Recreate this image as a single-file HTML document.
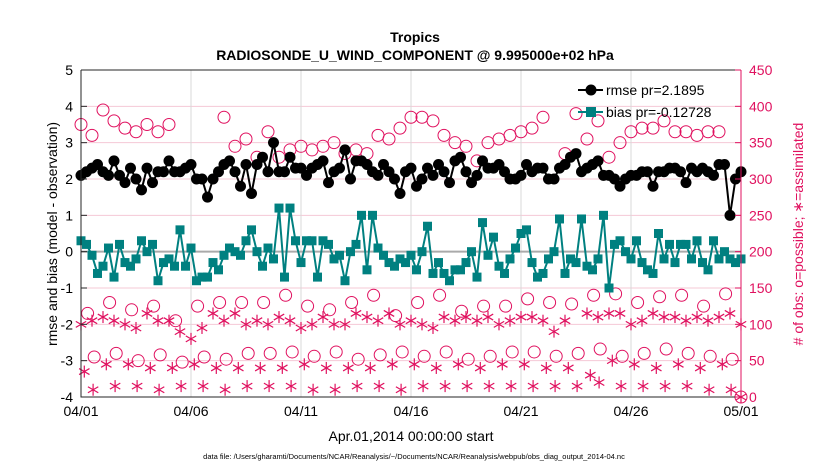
<!DOCTYPE html>
<html><head><meta charset="utf-8"><style>
body{margin:0;background:#fff;}
svg{font-family:"Liberation Sans",sans-serif;}
</style></head><body>
<svg id="chart" width="830" height="470" xmlns="http://www.w3.org/2000/svg">
<text x="415" y="42" text-anchor="middle" font-size="14" font-weight="bold">Tropics</text>
<text x="415" y="60" text-anchor="middle" font-size="14" font-weight="bold">RADIOSONDE_U_WIND_COMPONENT @ 9.995000e+02 hPa</text>
<g id="grid"></g>
<g id="marks"></g>
<g id="axes"></g>
<text transform="translate(57,234) rotate(-90)" text-anchor="middle" font-size="14">rmse and bias (model - observation)</text>
<text transform="translate(803,234) rotate(-90)" text-anchor="middle" font-size="14" fill="#e0115f">&#35; of obs: o=possible; &#8727;=assimilated</text>
<text x="411" y="441" text-anchor="middle" font-size="14">Apr.01,2014 00:00:00 start</text>
<text x="414" y="459" text-anchor="middle" font-size="7.5">data file: /Users/gharamti/Documents/NCAR/Reanalysis/~/Documents/NCAR/Reanalysis/webpub/obs_diag_output_2014-04.nc</text>
<g id="marks2"></g>
<g>
<line x1="578" y1="90" x2="603" y2="90" stroke="#000" stroke-width="2"/><circle cx="591" cy="90" r="5.5" fill="#000"/>
<text x="606" y="95" font-size="14">rmse pr=2.1895</text>
<line x1="578" y1="112" x2="603" y2="112" stroke="#008080" stroke-width="2"/><rect x="586" y="107" width="10" height="10" fill="#008080"/>
<text x="606" y="117" font-size="14">bias pr=-0.12728</text>
</g>
</svg>
<script>
const rmse=[2.1,2.2,2.3,2.4,2.2,2.1,2.5,2.1,1.9,2.3,2.0,1.7,2.3,1.9,2.2,2.2,2.5,2.2,2.2,2.3,2.4,2.0,2.0,1.5,2.0,2.2,2.4,2.5,2.2,1.8,2.4,1.6,2.4,2.6,2.2,3.0,2.2,2.2,2.6,2.3,2.3,2.1,2.3,2.4,2.5,1.9,2.2,2.3,2.8,2.0,2.5,2.5,2.4,2.2,2.1,2.4,2.2,2.0,1.6,2.2,
2.3,1.8,2.0,2.3,2.1,2.4,2.2,1.9,2.5,2.6,2.2,1.9,2.1,2.5,2.3,2.3,2.4,2.2,2.0,2.0,2.1,2.4,2.2,2.3,2.3,2.0,2.0,2.3,2.4,2.6,2.7,2.2,2.3,2.4,2.5,2.1,2.1,2.0,1.8,2.0,2.1,2.1,2.2,2.2,1.8,2.2,2.2,2.3,2.3,2.2,1.9,2.3,2.2,2.3,2.2,2.1,2.4,2.4,1.0,2.0,2.2];
const bias=[0.3,0.2,-0.1,-0.6,-0.4,0.1,-0.7,0.2,-0.3,-0.4,-0.2,0.3,0.0,0.2,-0.8,-0.3,-0.2,-0.4,0.6,-0.4,0.1,-0.8,-0.7,-0.7,-0.3,-0.5,-0.1,0.1,0.0,-0.1,0.3,0.6,0.0,-0.4,0.1,-0.2,1.2,-0.7,1.2,0.3,-0.3,0.3,0.3,-0.7,0.3,0.2,-0.2,-0.1,-0.8,0.0,0.2,1.0,-0.5,1.0,0.1,-0.1,-0.3,-0.4,-0.2,-0.3,
-0.1,-0.5,0.0,0.7,-0.6,-0.3,-0.6,-0.8,-0.5,-0.5,-0.3,0.0,-0.7,0.8,-0.1,0.4,-0.4,-0.6,-0.2,0.1,0.5,0.6,-0.3,-0.7,-0.6,-0.2,0.0,0.9,-0.6,-0.2,-0.3,0.9,-0.4,-0.5,-0.2,1.0,-1.0,0.2,0.3,0.0,-0.2,0.3,-0.3,-0.5,-0.6,0.5,-0.2,0.2,-0.3,0.2,0.2,-0.2,0.3,-0.3,-0.5,0.3,-0.2,0.0,-0.2,-0.3,-0.2];
const possHigh=[375,360,395,380,370,365,375,365,375,null,null,null,null,385,345,355,330,365,330,340,345,340,345,350,335,340,335,360,355,370,385,385,380,360,350,345,325,350,355,360,365,370,385,null,335,390,355,380,330,350,365,370,370,380,365,365,360,365,365,null,null];
const possMid=[115,130,120,125,105,125,130,130,130,140,125,120,130,140,112,130,140,118,125,125,135,130,128,140,142,130,138,140,125,142];
const assimMid=[100,105,110,105,100,95,115,105,105,90,80,95,115,105,115,100,105,100,110,105,95,100,110,100,100,115,110,105,115,100,105,100,95,110,105,110,105,110,100,105,110,110,105,90,105,null,115,110,115,115,100,105,115,110,110,105,110,105,110,115,100];
const possLo=[55,60,50,58,48,55,52,60,60,62,56,62,52,58,62,56,62,52,56,62,62,56,60,66,56,60,66,60,56,52];
const assimLo=[35,45,45,40,40,45,40,40,40,40,45,40,40,40,45,45,40,45,40,45,45,40,40,30,50,45,40,45,40,45];
const assimBot=[10,15,15,10,15,15,10,15,15,15,10,10,15,15,10,15,15,15,15,15,15,15,15,20,15,15,15,15,10,10];
const ticksL=[5,4,3,2,1,0,-1,-2,-3,-4];
const ticksR=[450,400,350,300,250,200,150,100,50,0];
const xLabels=["04/01","04/06","04/11","04/16","04/21","04/26","05/01"];
const X0=81,X1=741,Y0=70,Y1=397;
const xs=d=>X0+(X1-X0)*d/30;
const yl=v=>Y1-(v+4)/9*(Y1-Y0);
const yr=v=>Y1-v/450*(Y1-Y0);
const NS="http://www.w3.org/2000/svg";
function mk(p,t,a){const e=document.createElementNS(NS,t);for(const k in a)e.setAttribute(k,a[k]);p.appendChild(e);return e;}
const G=document.getElementById('grid'),M=document.getElementById('marks'),A=document.getElementById('axes');
const PK="#e0115f";
ticksR.forEach(v=>{if(v>0&&v<450){const l=mk(G,'line',{x1:X0,x2:X1,y1:yr(v),y2:yr(v),stroke:'#f4c8d6','stroke-width':1});

}});
xLabels.forEach((s,i)=>{const x=xs(i*5);if(i>0&&i<6){const l=mk(G,'line',{x1:x,x2:x,y1:Y0,y2:Y1,stroke:'#d8d8d8'});

}
const t=mk(A,'text',{x:x,y:Y1+19,'text-anchor':'middle','font-size':14});t.textContent=s;

});
const z=mk(G,'line',{x1:X0,x2:X1,y1:yl(0),y2:yl(0),stroke:'#aaa','stroke-width':2});


function circ(d,v){if(v==null)return;const c=mk(M,'circle',{cx:xs(d),cy:yr(v),r:6,fill:'none',stroke:PK,'stroke-width':1});

}
function star(d,v){if(v==null)return;const x=xs(d),y=yr(v),g=mk(M,'g',{stroke:PK,'stroke-width':1.2});


[[0,6],[5.2,3],[5.2,-3]].forEach(([a,b])=>mk(g,'line',{x1:x-a,y1:y-b,x2:x+a,y2:y+b}));}
possHigh.forEach((v,i)=>circ(i*0.5,v));
possMid.forEach((v,i)=>circ(i+0.3,v));
assimMid.forEach((v,i)=>star(i*0.5,v));
possLo.forEach((v,i)=>circ(i+0.6,v));
assimLo.forEach((v,i)=>star(i+0.15,v));
assimBot.forEach((v,i)=>star(i+0.55,v));
circ(30,0);star(30,0);
const ptsR=rmse.map((v,i)=>xs(i*0.25)+','+yl(v)).join(' ');
const pr=mk(M,'polyline',{points:ptsR,fill:'none',stroke:'#000','stroke-width':2});


rmse.forEach((v,i)=>{const c=mk(M,'circle',{cx:xs(i*0.25),cy:yl(v),r:5.5,fill:'#000'});

});
const ptsB=bias.map((v,i)=>xs(i*0.25)+','+yl(v)).join(' ');
const pb=mk(M,'polyline',{points:ptsB,fill:'none',stroke:'#008080','stroke-width':2});


bias.forEach((v,i)=>{const r=mk(M,'rect',{x:xs(i*0.25)-4.5,y:yl(v)-4.5,width:9,height:9,fill:'#008080'});

});
const bx=mk(A,'path',{d:`M${X0},${Y0}V${Y1}H${X1}`,fill:'none',stroke:'#262626'});


const ra=mk(A,'line',{x1:X1,x2:X1,y1:Y0,y2:Y1,stroke:PK});


const ta=mk(A,'line',{x1:X0,x2:X1,y1:Y0,y2:Y0,stroke:'#262626'});


ticksL.forEach(v=>{const y=yl(v);mk(A,'line',{x1:X0,x2:X0+6,y1:y,y2:y,stroke:'#262626'});
const t=mk(A,'text',{x:X0-8,y:y+5,'text-anchor':'end','font-size':14});t.textContent=v;

});
ticksR.forEach(v=>{const y=yr(v);mk(A,'line',{x1:X1-6,x2:X1,y1:y,y2:y,stroke:PK});
const t=mk(A,'text',{x:X1+8,y:y+5,'font-size':14,fill:PK});t.textContent=v;

});
</script>
</body></html>
